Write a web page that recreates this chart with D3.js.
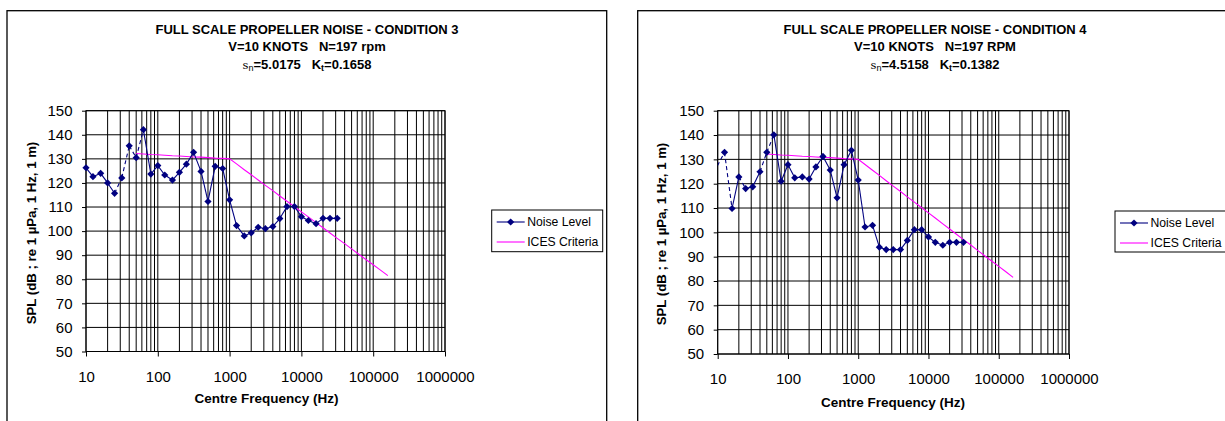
<!DOCTYPE html>
<html>
<head>
<meta charset="utf-8">
<script src="https://cdn.jsdelivr.net/npm/d3@7"></script>
<style>
  html, body { margin: 0; padding: 0; background: #fff; }
  svg { display: block; font-family: "Liberation Sans", Arial, sans-serif; }
</style>
</head>
<body>
<svg id="chart" width="1225" height="421"></svg>
<script>
// ---------------- DATA ----------------
const bandFreqs3 = [10, 12.5, 16, 20, 25, 31.5, 40, 50, 63, 80, 100, 125, 160, 200, 250, 315, 400, 500, 630, 800,
  1000, 1250, 1600, 2000, 2500, 3150, 4000, 5000, 6300, 8000, 10000, 12500, 16000, 20000, 25000, 31500];
const noise3 = [126.3, 122.6, 124.0, 120.0, 115.7, 122.1, 135.4, 130.5, 142.1, 123.7, 127.2, 123.3, 121.2, 124.4,
  127.8, 132.7, 124.8, 112.3, 126.9, 126.0, 113.0, 102.3, 98.0, 99.3, 101.6, 101.0, 101.9, 105.2, 110.2, 110.2,
  106.0, 104.4, 103.1, 105.3, 105.3, 105.3];

const bandFreqs4 = [8, 12.5, 16, 20, 25, 31.5, 40, 50, 63, 80, 100, 125, 160, 200, 250, 315, 400, 500, 630, 800,
  1000, 1250, 1600, 2000, 2500, 3150, 4000, 5000, 6300, 8000, 10000, 12500, 16000, 20000, 25000, 31500];
const noise4 = [122.3, 132.9, 109.8, 122.8, 118.0, 118.7, 124.9, 132.9, 140.1, 121.0, 127.8, 122.4, 122.8, 121.9,
  126.9, 131.2, 125.6, 114.2, 127.8, 133.7, 121.5, 102.2, 102.9, 93.9, 92.9, 92.9, 92.9, 96.7, 101.1, 101.1,
  98.1, 95.9, 94.7, 95.9, 95.9, 95.9];

const icesFreqs = [50, 63, 80, 100, 125, 160, 200, 250, 315, 400, 500, 630, 800, 1000, 1250, 1600, 2000, 2500,
  3150, 4000, 5000, 6300, 8000, 10000, 12500, 16000, 20000, 25000, 31500, 40000, 50000, 63000, 80000, 100000,
  125000, 160000];
const icesLevels = [132.2, 132.0, 131.8, 131.7, 131.5, 131.3, 131.2, 131.0, 130.8, 130.7, 130.5, 130.3, 130.2, 130.0,
  127.9, 125.5, 123.4, 121.2, 119.0, 116.8, 114.6, 112.4, 110.1, 108.0, 105.9, 103.5, 101.4, 99.2, 97.0, 94.8,
  92.6, 90.4, 88.1, 86.0, 83.9, 81.5];

const xTickValues = [10, 100, 1000, 10000, 100000, 1000000];
const xTickLabels = ["10", "100", "1000", "10000", "100000", "1000000"];
const yTickValues = [50, 60, 70, 80, 90, 100, 110, 120, 130, 140, 150];
const seriesNames = ["Noise Level", "ICES Criteria"];

const titles3 = ["FULL SCALE PROPELLER NOISE - CONDITION 3", "V=10 KNOTS   N=197 rpm", ["5.0175", "0.1658"]];
const titles4 = ["FULL SCALE PROPELLER NOISE - CONDITION 4", "V=10 KNOTS   N=197 RPM", ["4.5158", "0.1382"]];
const xTitle = "Centre Frequency (Hz)";
const yTitle = "SPL (dB ; re 1 \u00B5Pa, 1 Hz, 1 m)";

// segments (by start frequency) drawn with a broken line in the original
const brokenFrom3 = [25, 31.5, 40, 50];
const brokenFrom4 = [8, 12.5, 20, 40, 50];

// ---------------- DRAW ----------------
const svg = d3.select("#chart");
const NAVY = "#000080", PINK = "#FF00FF";

function drawChart(id, cfg, freqs, noise, titles, brokenFrom) {
  const g = svg.append("g");
  // outer frame
  g.append("rect").attr("x", cfg.frame.x).attr("y", cfg.frame.y)
    .attr("width", cfg.frame.w).attr("height", cfg.frame.h)
    .attr("fill", "#fff").attr("stroke", "#000").attr("stroke-width", 1.3);

  const x = d3.scaleLog().domain([10, 1000000]).range([cfg.px0, cfg.px1]);
  const y = d3.scaleLinear().domain([50, 150]).range([cfg.py1, cfg.py0]);

  // gridlines - vertical (log minor + major)
  const vGrid = [];
  for (let dec = 10; dec < 1000000; dec *= 10) {
    for (let m = 1; m <= 9; m++) vGrid.push(dec * m);
  }
  vGrid.push(1000000);
  g.append("g").selectAll("line").data(vGrid).join("line")
    .attr("x1", d => x(d)).attr("x2", d => x(d))
    .attr("y1", cfg.py0).attr("y2", cfg.py1)
    .attr("stroke", "#000").attr("stroke-width", 1);
  // gridlines - horizontal
  g.append("g").selectAll("line").data(yTickValues).join("line")
    .attr("x1", cfg.px0).attr("x2", cfg.px1)
    .attr("y1", d => y(d)).attr("y2", d => y(d))
    .attr("stroke", "#000").attr("stroke-width", 1);
  // plot border
  g.append("rect").attr("x", cfg.px0).attr("y", cfg.py0)
    .attr("width", cfg.px1 - cfg.px0).attr("height", cfg.py1 - cfg.py0)
    .attr("fill", "none").attr("stroke", "#000").attr("stroke-width", 1);

  // axes
  const xAxis = d3.axisBottom(x).tickValues(xTickValues)
    .tickFormat((d, i) => xTickLabels[i]).tickSize(5).tickSizeOuter(0).tickPadding(cfg.xPad);
  const xg = g.append("g").attr("transform", `translate(0,${cfg.py1})`).call(xAxis);
  xg.select(".domain").remove();
  xg.selectAll("line").attr("stroke", "#000");
  xg.selectAll("text").attr("font-size", 15).attr("fill", "#000")
    .attr("font-family", "Liberation Sans, Arial, sans-serif");

  const yAxis = d3.axisLeft(y).tickValues(yTickValues).tickSize(4).tickSizeOuter(0).tickPadding(9.5);
  const yg = g.append("g").attr("transform", `translate(${cfg.px0},0)`).call(yAxis);
  yg.select(".domain").remove();
  yg.selectAll("line").attr("stroke", "#000");
  yg.selectAll("text").attr("font-size", 15).attr("fill", "#000")
    .attr("font-family", "Liberation Sans, Arial, sans-serif");

  // clip
  g.append("clipPath").attr("id", "clip" + id).append("rect")
    .attr("x", cfg.px0).attr("y", cfg.py0)
    .attr("width", cfg.px1 - cfg.px0).attr("height", cfg.py1 - cfg.py0);

  // ICES line
  const icesData = icesFreqs.map((f, i) => [f, icesLevels[i]]);
  const line = d3.line().x(d => x(d[0])).y(d => y(d[1]));
  g.append("path").datum(icesData).attr("d", line)
    .attr("fill", "none").attr("stroke", PINK).attr("stroke-width", 1.1)
    .attr("clip-path", `url(#clip${id})`);

  // Noise line, drawn segment by segment
  const noiseData = freqs.map((f, i) => [f, noise[i]]);
  const segs = d3.pairs(noiseData);
  g.append("g").attr("clip-path", `url(#clip${id})`)
    .selectAll("path").data(segs).join("path")
    .attr("d", d => line(d))
    .attr("fill", "none").attr("stroke", NAVY).attr("stroke-width", 1.1)
    .attr("stroke-dasharray", d => brokenFrom.includes(d[0][0]) ? "4,3" : null);
  const diamond = d3.symbol(d3.symbolSquare, 26);
  g.append("g").selectAll("path").data(noiseData.filter(d => d[0] >= 10 && d[0] <= 1000000)).join("path")
    .attr("d", diamond)
    .attr("transform", d => `translate(${x(d[0])},${y(d[1])}) rotate(45)`)
    .attr("fill", NAVY);

  // titles
  const tg = g.append("g").attr("font-weight", "bold").attr("font-size", 13)
    .attr("text-anchor", "middle").attr("fill", "#000");
  tg.append("text").attr("x", cfg.titleCx).attr("y", cfg.titleY[0]).text(titles[0]);
  tg.append("text").attr("x", cfg.titleCx).attr("y", cfg.titleY[1])
    .style("white-space", "pre").text(titles[1]);
  const t3 = tg.append("text").attr("x", cfg.titleCx).attr("y", cfg.titleY[2]).style("white-space", "pre");
  t3.append("tspan").attr("font-weight", "normal").attr("font-family", "DejaVu Serif, serif")
    .attr("font-size", 11.5).text("s");
  t3.append("tspan").attr("font-weight", "normal").attr("font-size", 9).attr("dy", 2).text("n");
  t3.append("tspan").attr("dy", -2).text("=" + titles[2][0] + "   K");
  t3.append("tspan").attr("font-size", 9).attr("dy", 2).text("t");
  t3.append("tspan").attr("dy", -2).text("=" + titles[2][1]);

  // axis titles
  g.append("text").attr("x", cfg.xTitleCx).attr("y", cfg.xTitleY)
    .attr("text-anchor", "middle").attr("font-weight", "bold").attr("font-size", 13.5)
    .text(xTitle);
  g.append("text").attr("transform", `translate(${cfg.yTitleX},${cfg.yTitleCy}) rotate(-90)`)
    .attr("text-anchor", "middle").attr("dy", "0.35em")
    .attr("font-weight", "bold").attr("font-size", 13.2).text(yTitle);

  // legend
  const L = cfg.legend;
  const lg = g.append("g");
  lg.append("rect").attr("x", L.x).attr("y", L.y).attr("width", L.w).attr("height", L.h)
    .attr("fill", "#fff").attr("stroke", "#000").attr("stroke-width", 1);
  const rowY = [L.y + 12, L.y + 32];
  const colors = [NAVY, PINK];
  seriesNames.forEach((name, i) => {
    lg.append("line").attr("x1", L.x + 5).attr("x2", L.x + 33)
      .attr("y1", rowY[i]).attr("y2", rowY[i]).attr("stroke", colors[i]).attr("stroke-width", 1.1);
    lg.append("text").attr("x", L.x + 35.5).attr("y", rowY[i] + 4.2)
      .attr("font-size", 12.2).attr("fill", "#000").text(name);
  });
  lg.append("path").attr("d", diamond)
    .attr("transform", `translate(${L.x + 19},${rowY[0]}) rotate(45)`).attr("fill", NAVY);
}

drawChart(3, {
  frame: { x: 7, y: 10.7, w: 599.7, h: 420 },
  px0: 86, px1: 445, py0: 110.7, py1: 351.5,
  xPad: 14.5,
  titleCx: 307, titleY: [33.5, 51, 69],
  xTitleCx: 266.5, xTitleY: 402.7,
  yTitleX: 31, yTitleCy: 233,
  legend: { x: 491.7, y: 210, w: 111, h: 41.7 }
}, bandFreqs3, noise3, titles3, brokenFrom3);

drawChart(4, {
  frame: { x: 637.7, y: 10.7, w: 600, h: 420 },
  px0: 717.7, px1: 1069, py0: 110.7, py1: 354,
  xPad: 14.5,
  titleCx: 935, titleY: [33.5, 51, 69],
  xTitleCx: 893, xTitleY: 407,
  yTitleX: 661.7, yTitleCy: 234,
  legend: { x: 1115, y: 211, w: 112, h: 41 }
}, bandFreqs4, noise4, titles4, brokenFrom4);
</script>
</body>
</html>
